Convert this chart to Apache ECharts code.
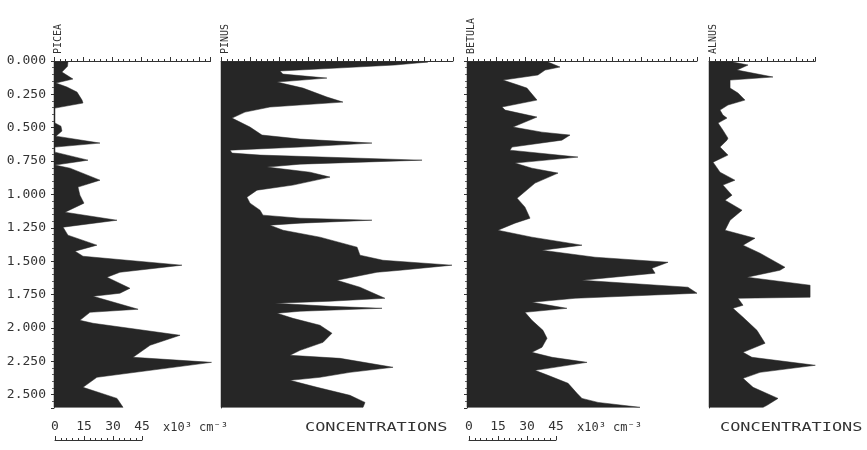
<!DOCTYPE html>
<html><head><meta charset="utf-8">
<script src="https://cdn.jsdelivr.net/npm/echarts@6/dist/echarts.min.js"></script>
<style>html,body{margin:0;padding:0;background:#fff}#c{width:867px;height:450px}</style>
</head><body><div id="c"></div>
<script>
// taxa (panel titles)
const taxa = ['PICEA', 'PINUS', 'BETULA', 'ALNUS'];
// axis maxima (x10^3 cm^-3)
const axisMax = [81, 120, 119, 55];
// depth tick labels step / scale bar labels
const depthStep = 0.25;
const scaleLabels = [0, 15, 30, 45];

// [depth, concentration] pairs
const picea = [[0.008,7.2],[0.04,7],[0.083,4.1],[0.135,9.8],[0.165,1],[0.195,6.7],[0.233,11.9],[0.293,14.5],[0.315,15],[0.353,0.5],
[0.465,0.5],[0.488,3.6],[0.525,4.1],[0.563,1],[0.615,23.8],[0.645,0.5],[0.683,0.5],[0.743,17.6],[0.78,0.5],[0.803,8.3],
[0.893,23.8],[0.945,12.4],[1.005,13.4],[1.065,15.5],[1.133,5.7],[1.193,32.6],[1.245,4.7],[1.305,7.2],[1.38,22.2],[1.425,10.9],
[1.463,15],[1.53,66.2],[1.583,34.1],[1.62,27.4],[1.703,39.3],[1.74,34.1],[1.763,20.2],[1.86,43.5],[1.883,18.6],[1.943,13.4],
[1.965,20.2],[2.055,65.2],[2.13,49.7],[2.22,40.9],[2.258,81.5],[2.37,22.2],[2.445,15],[2.528,32.6],[2.595,35.7]];

const pinus = [[0.008,107],[0.03,90],[0.053,60],[0.075,30.5],[0.098,32],[0.128,54.8],[0.158,29],[0.203,42.4],[0.27,54.8],[0.308,63.1],
[0.345,25.3],[0.383,12.4],[0.428,5.7],[0.495,15],[0.555,21.2],[0.585,40.9],[0.615,78.1],[0.645,40.9],[0.668,4.7],[0.69,5.7],
[0.705,20.2],[0.743,104],[0.773,40.9],[0.795,23.8],[0.833,46],[0.87,56.4],[0.93,37.2],[0.968,18.6],[1.02,13.4],[1.065,15],
[1.118,20.2],[1.155,21.7],[1.178,40.9],[1.193,78.1],[1.215,40.9],[1.23,25.3],[1.268,32.1],[1.32,51.2],[1.395,70.4],[1.455,71.9],
[1.493,83.8],[1.53,119.5],[1.568,92.6],[1.583,80.7],[1.643,60],[1.695,71.9],[1.778,84.8],[1.8,56.4],[1.815,27.9],[1.838,56.4],
[1.853,83.3],[1.875,40.9],[1.89,29],[1.928,37.2],[1.98,51.2],[2.04,57.4],[2.108,52.8],[2.168,40.9],[2.205,35.7],[2.228,61.6],
[2.295,89],[2.333,66.7],[2.37,51.2],[2.393,35.7],[2.445,49.7],[2.505,66.7],[2.558,74.5],[2.595,73.5]];

const betula = [[0.008,41.9],[0.045,48.1],[0.068,40.4],[0.105,36.7],[0.143,18.6],[0.18,26.4],[0.203,31],[0.293,36.2],[0.345,18.1],[0.368,19.7],
[0.42,36.2],[0.495,23.8],[0.533,38.8],[0.555,53.3],[0.593,49.1],[0.645,23.3],[0.668,22.2],[0.72,57.4],[0.765,24.8],[0.803,33.6],
[0.84,47.1],[0.915,35.2],[1.028,25.9],[1.095,30],[1.178,32.6],[1.215,24.8],[1.268,16],[1.32,33.6],[1.38,59.5],[1.418,38.8],
[1.47,66.2],[1.508,104],[1.553,95.7],[1.59,97.3],[1.643,59.5],[1.695,114.3],[1.74,119],[1.778,55.9],[1.808,33.6],[1.853,51.7],
[1.883,30],[1.943,33.6],[2.018,39.3],[2.078,41.4],[2.145,38.8],[2.183,33.6],[2.22,44],[2.258,62.1],[2.318,35.2],[2.355,41.9],
[2.415,52.3],[2.49,56.9],[2.528,59.5],[2.558,67.8],[2.595,89.5]];

const alnus = [[0.008,12.4],[0.03,20.2],[0.068,14.5],[0.12,33.1],[0.143,10.9],[0.203,10.9],[0.24,15],[0.293,18.6],[0.33,9.8],[0.368,5.7],
[0.405,7.2],[0.428,9.3],[0.465,4.7],[0.518,7.2],[0.578,9.8],[0.593,9.3],[0.645,5.7],[0.705,9.8],[0.758,2.1],[0.833,5.7],
[0.893,13.4],[0.93,7.2],[1.005,11.9],[1.043,8.3],[1.118,17.1],[1.193,10.9],[1.268,8.3],[1.328,23.8],[1.38,17.6],[1.44,26.4],
[1.545,39.3],[1.568,36.7],[1.62,19.7],[1.68,52.3],[1.77,52.3],[1.778,15],[1.83,17.6],[1.853,12.4],[1.92,17.6],[2.018,24.8],
[2.115,29],[2.183,17.6],[2.22,22.2],[2.28,55],[2.333,26.4],[2.378,17.6],[2.445,22.8],[2.528,35.7],[2.58,30],[2.595,28]];

const series = [picea, pinus, betula, alnus];

// layout
const PX = 1.933;           // px per unit
const lefts = [54, 221, 467, 709];
const TOP = 61, H = 347;
const FONT = 'DejaVu Sans Mono';
const INK = '#333';
const FILL = '#262626';

const grid = [], xAxis = [], yAxis = [], ser = [];
taxa.forEach((t, i) => {
  grid.push({left: lefts[i], top: TOP, width: axisMax[i] * PX, height: H});
  xAxis.push({
    type: 'value', gridIndex: i, position: 'top', min: 0, max: axisMax[i], interval: 15,
    axisLine: {show: true, lineStyle: {color: INK, width: 1}},
    axisTick: {show: true, length: 4, lineStyle: {color: INK}},
    minorTick: {show: true, splitNumber: 5, length: 2, lineStyle: {color: INK}},
    axisLabel: {show: false}, splitLine: {show: false}
  });
  yAxis.push({
    type: 'value', gridIndex: i, inverse: true, min: 0, max: 2.6, interval: depthStep,
    axisLine: {show: true, lineStyle: {color: i === 0 ? '#555' : '#444', width: 1}},
    axisTick: {show: i === 0 || i === 2, length: 3, lineStyle: {color: INK}},
    minorTick: {show: i === 0 || i === 2, splitNumber: 5, length: 2, lineStyle: {color: '#666'}},
    axisLabel: {show: i === 0, fontFamily: FONT, fontSize: 13, color: INK, margin: 8,
      formatter: v => v > 2.55 ? '' : v.toFixed(3)},
    splitLine: {show: false}
  });
  const pts = series[i];
  ser.push({
    type: 'custom', xAxisIndex: i, yAxisIndex: i,
    data: pts.map(p => [p[1], p[0]]),
    encode: {x: 0, y: 1},
    renderItem: function (params, api) {
      if (params.dataIndex !== 0) return null;
      const poly = [api.coord([0, pts[0][0]])];
      pts.forEach(p => poly.push(api.coord([p[1], p[0]])));
      poly.push(api.coord([0, pts[pts.length - 1][0]]));
      return {type: 'polygon', shape: {points: poly}, style: {fill: FILL, stroke: FILL, lineWidth: 0.5}};
    }
  });
});

// scale bars under PICEA and BETULA
const barLefts = [55, 469];
barLefts.forEach((bl, k) => {
  const gi = grid.length;
  grid.push({left: bl, top: 439, width: 45 * PX, height: 1});
  xAxis.push({
    type: 'value', gridIndex: gi, position: 'top', min: scaleLabels[0], max: scaleLabels[scaleLabels.length - 1], interval: 15,
    axisLine: {show: true, lineStyle: {color: INK}},
    axisTick: {show: true, length: 4, lineStyle: {color: INK}},
    minorTick: {show: true, splitNumber: 5, length: 2, lineStyle: {color: INK}},
    axisLabel: {show: true, fontFamily: FONT, fontSize: 13, color: INK, margin: 6},
    splitLine: {show: false}
  });
  yAxis.push({type: 'value', gridIndex: gi, show: false});
});

const graphic = [];
taxa.forEach((t, i) => {
  graphic.push({type: 'text', x: lefts[i] + 4, y: 54, rotation: Math.PI / 2,
    style: {text: t, font: '10px ' + FONT, fill: INK, textAlign: 'left', textVerticalAlign: 'middle'}});
});
[163, 577].forEach(x => graphic.push({type: 'text', x: x, y: 428,
  style: {text: 'x10³ cm⁻³', font: '12px ' + FONT, fill: INK, textAlign: 'left', textVerticalAlign: 'middle'}}));
[305, 720].forEach(x => graphic.push({type: 'text', x: x, y: 428, scaleX: 1.3,
  style: {text: 'CONCENTRATIONS', font: '13px ' + FONT, fill: INK, textAlign: 'left', textVerticalAlign: 'middle'}}));

const chart = echarts.init(document.getElementById('c'), null, {renderer: 'canvas'});
chart.setOption({animation: false, backgroundColor: '#fff', grid, xAxis, yAxis, series: ser, graphic});
</script></body></html>
